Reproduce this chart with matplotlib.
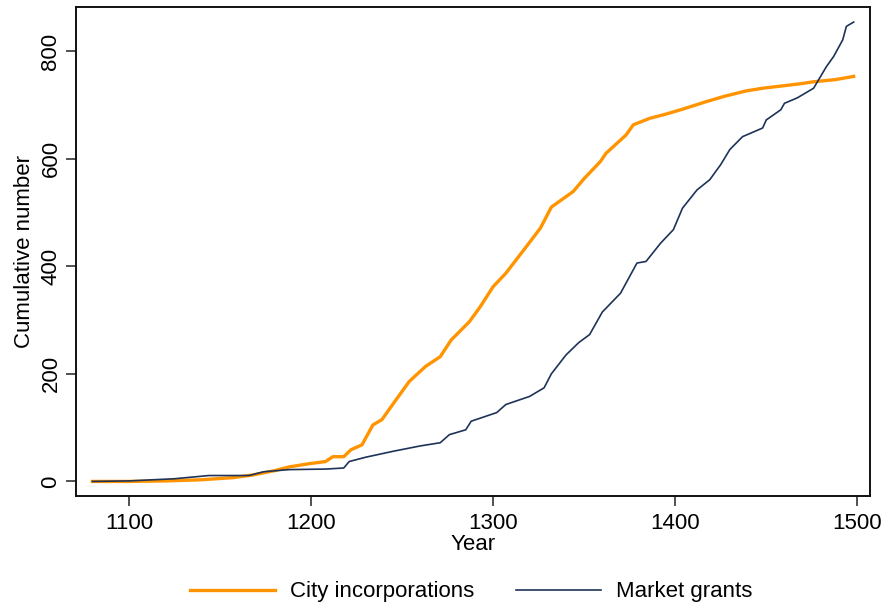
import numpy as np
import matplotlib
matplotlib.use('Agg')
import matplotlib.pyplot as plt

plt.rcParams['font.family'] = ['Liberation Sans', 'DejaVu Sans']

# cumulative counts, read at irregular years
city_years = [1080, 1100, 1120, 1139, 1157, 1168, 1180, 1188, 1199, 1208, 1212, 1218,
              1222, 1228, 1234, 1239, 1244, 1254, 1263, 1271, 1277, 1287, 1293, 1300,
              1307, 1317, 1326, 1332, 1344, 1350, 1359, 1362, 1373, 1377, 1386, 1395,
              1404, 1417, 1427, 1439, 1448, 1458, 1468, 1476, 1488, 1498]
city_counts = [0, 0, 1, 3, 7, 12, 20, 27, 33, 37, 46, 46,
               59, 68, 105, 115, 139, 186, 214, 232, 263, 297, 325, 362,
               387, 431, 471, 510, 539, 563, 595, 610, 644, 663, 675, 683,
               692, 706, 716, 726, 731, 735, 739, 743, 747, 753]

market_years = [1080, 1100, 1125, 1144, 1166, 1174, 1188, 1208, 1218, 1221, 1230, 1245,
                1260, 1271, 1276, 1285, 1288, 1302, 1307, 1320, 1328, 1332, 1340, 1347,
                1353, 1360, 1370, 1379, 1384, 1392, 1399, 1404, 1412, 1419, 1425, 1430,
                1437, 1448, 1450, 1458, 1460, 1467, 1476, 1483, 1487, 1492, 1494, 1498]
market_counts = [0, 1, 5, 11, 11, 18, 22, 23, 25, 37, 45, 56,
                 66, 72, 87, 96, 112, 128, 143, 158, 174, 200, 235, 258,
                 273, 315, 350, 406, 409, 443, 468, 508, 542, 561, 589, 617,
                 641, 657, 672, 691, 703, 713, 731, 771, 790, 821, 846, 854]

x_ticks = [1100, 1200, 1300, 1400, 1500]
y_ticks = [0, 200, 400, 600, 800]

FS = 16

fig = plt.figure(figsize=(8.86, 6.09), dpi=100)
ax = fig.add_axes([0.0858, 0.1856, 0.8962, 0.8029])

ax.plot(city_years, city_counts, color='#FF9400', lw=2.4, label='City incorporations',
        solid_joinstyle='round')
ax.plot(market_years, market_counts, color='#1E3358', lw=1.2, label='Market grants')

ax.set_xlim(1071, 1507)
ax.set_ylim(-27, 882)
ax.set_xticks(x_ticks)
ax.set_yticks(y_ticks)
ax.tick_params(axis='both', labelsize=FS, length=7, width=1.1, color='#222222')
ax.tick_params(axis='x', pad=5)
for lab in ax.get_yticklabels():
    lab.set_rotation(90)
    lab.set_va('center')
for sp in ax.spines.values():
    sp.set_linewidth(1.4)
    sp.set_color('#111111')

ax.set_xlabel('Year', fontsize=FS, labelpad=0)
ax.set_ylabel('Cumulative number', fontsize=FS, labelpad=4)

fig.legend(loc='center', bbox_to_anchor=(0.532, 0.028), ncol=2, frameon=False,
           fontsize=FS, handlelength=3.8, columnspacing=1.9, handletextpad=0.68)

fig.savefig('out.png', dpi=100)
